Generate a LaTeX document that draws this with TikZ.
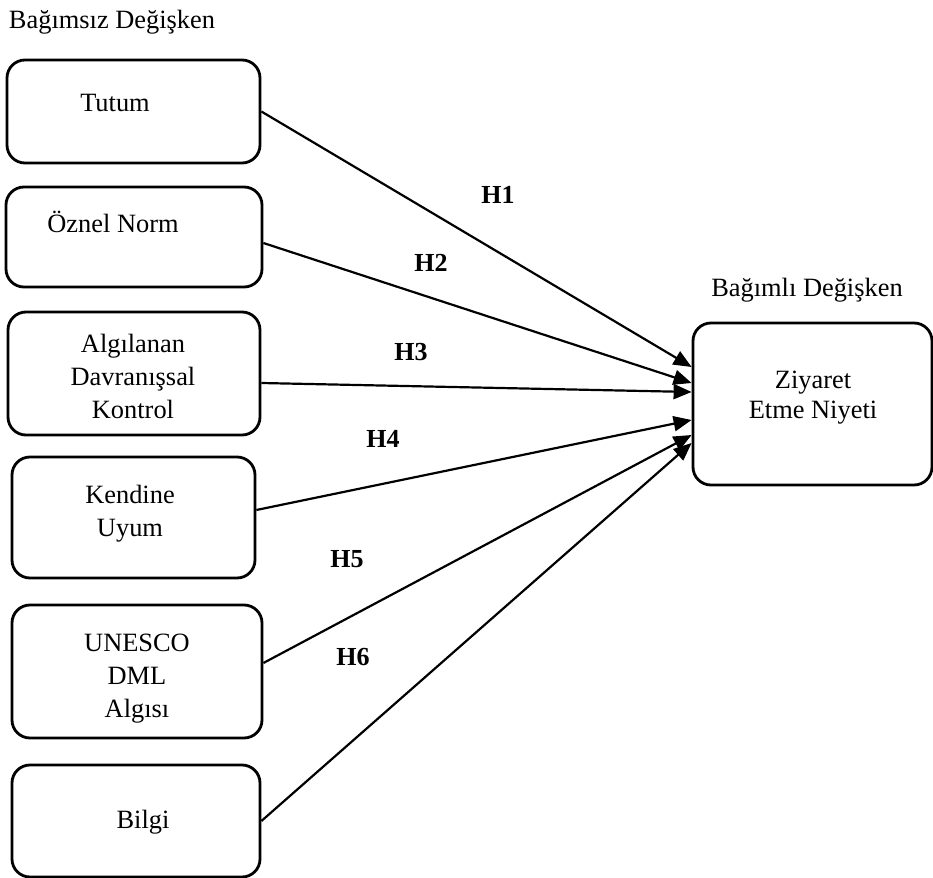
\documentclass[tikz,border=0pt]{standalone}
\usepackage{fontspec}
\setmainfont{Liberation Serif}
\usetikzlibrary{arrows.meta}

\tikzset{
  kutu/.style={draw,line width=1.4pt,rounded corners=9pt,inner sep=0pt},
  yazi/.style={inner sep=1pt,align=center,font=\fontsize{13.2}{16.5}\selectfont},
  hipo/.style={inner sep=1pt,font=\fontsize{13}{15}\selectfont\bfseries},
  ok/.style={line width=1.1pt,-{Triangle[length=9pt,width=7.5pt]}}
}

\begin{document}
\begin{tikzpicture}[x=0.5pt,y=-0.5pt]
\useasboundingbox (0,0) rectangle (933,878);
\node[yazi] (bagimsiz) at (112,22) {Bağımsız Değişken};
\node[yazi] (bagimli) at (807,290) {Bağımlı Değişken};
% kutular
\node[kutu,minimum width=126.5pt,minimum height=51.5pt] (tutum) at (133.5,111.5) {};
\node[kutu,minimum width=128pt,minimum height=50pt] (oznel) at (134,237) {};
\node[kutu,minimum width=126pt,minimum height=61.5pt] (algi) at (134,373.5) {};
\node[kutu,minimum width=121.5pt,minimum height=60.5pt] (kendine) at (133.5,517.5) {};
\node[kutu,minimum width=125pt,minimum height=66.5pt] (unesco) at (137,671.5) {};
\node[kutu,minimum width=124pt,minimum height=56pt] (bilgi) at (136,821) {};
\node[kutu,minimum width=119.5pt,minimum height=81pt] (niyet) at (812.5,404) {};
% yazilar
\node[yazi] (tutumY) at (115,103) {Tutum};
\node[yazi] (oznelY) at (113,222) {Öznel Norm};
\node[yazi] (algiY) at (133,376) {Algılanan\\Davranışsal\\Kontrol};
\node[yazi] (kendineY) at (130,514) {Kendine\\Uyum};
\node[yazi] (unescoY) at (137,679) {UNESCO\\DML\\Algısı};
\node[yazi] (bilgiY) at (143,822) {Bilgi};
\node[yazi,font=\fontsize{13.2}{15}\selectfont] (niyetY) at (813,398) {Ziyaret\\Etme Niyeti};
% oklar
\draw[ok] (tutum.east) -- ([yshift=18.5pt]niyet.west);
\draw[ok] ([yshift=-3pt]oznel.east) -- ([yshift=10.5pt]niyet.west);
\draw[ok] ([yshift=-4.75pt]algi.east) -- ([yshift=6pt]niyet.west);
\draw[ok] ([yshift=3.75pt]kendine.east) -- ([yshift=-8pt]niyet.west);
\draw[ok] ([yshift=4.25pt]unesco.east) -- ([yshift=-15.5pt]niyet.west);
\draw[ok] (bilgi.east) -- ([yshift=-19.5pt]niyet.west);
% hipotezler
\node[hipo] (h1) at (498,195) {H1};
\node[hipo] (h2) at (431,263) {H2};
\node[hipo] (h3) at (411,352) {H3};
\node[hipo] (h4) at (383,439) {H4};
\node[hipo] (h5) at (347,559) {H5};
\node[hipo] (h6) at (353,657) {H6};
\end{tikzpicture}
\end{document}
